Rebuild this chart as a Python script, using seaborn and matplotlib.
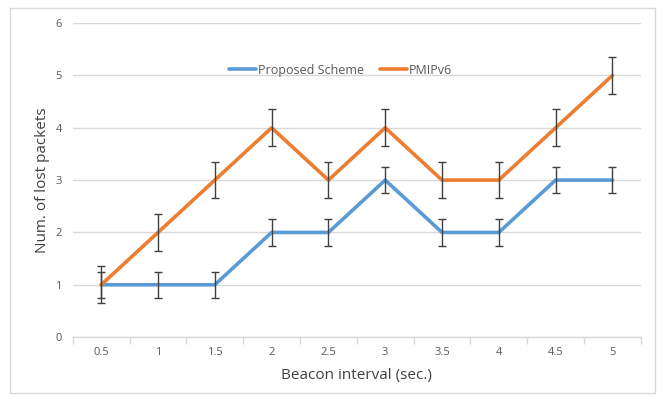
import matplotlib
matplotlib.use("Agg")
import matplotlib.pyplot as plt
from matplotlib.patches import Rectangle
import seaborn as sns
import pandas as pd
import numpy as np

categories = ["0.5", "1", "1.5", "2", "2.5", "3", "3.5", "4", "4.5", "5"]
proposed = [1, 1, 1, 2, 2, 3, 2, 2, 3, 3]
pmipv6 = [1, 2, 3, 4, 3, 4, 3, 3, 4, 5]
proposed_err = 0.25
pmipv6_err = 0.35
y_ticks = [0, 1, 2, 3, 4, 5, 6]

BLUE = "#5B9BD5"
ORANGE = "#ED7D31"
TEXT = "#595959"

sns.set_theme(style="white")
plt.rcParams["font.family"] = ["Open Sans", "DejaVu Sans"]

df = pd.DataFrame({
    "interval": categories * 2,
    "lost": proposed + pmipv6,
    "scheme": ["Proposed Scheme"] * len(categories) + ["PMIPv6"] * len(categories),
})

fig = plt.figure(figsize=(6.62, 3.98), dpi=100)
ax = fig.add_axes([0.110, 0.153, 0.858, 0.789])

# outer chart frame
fig.patches.append(Rectangle((10 / 662, 5 / 398), 645 / 662, 385 / 398,
                             transform=fig.transFigure, fill=False,
                             edgecolor="#d9d9d9", linewidth=1.0))

sns.lineplot(data=df, x="interval", y="lost", hue="scheme",
             palette={"Proposed Scheme": BLUE, "PMIPv6": ORANGE},
             linewidth=2.6, ax=ax, sort=False, zorder=3)

pos = np.arange(len(categories))
ax.errorbar(pos, pmipv6, yerr=pmipv6_err, fmt="none", ecolor="#404040",
            elinewidth=1.0, capsize=3, capthick=1.0, zorder=4)
ax.errorbar(pos, proposed, yerr=proposed_err, fmt="none", ecolor="#404040",
            elinewidth=1.0, capsize=3, capthick=1.0, zorder=4)

ax.set_xlim(-0.5, len(categories) - 0.5)
ax.set_ylim(0, 6)
ax.set_yticks(y_ticks)
ax.set_yticklabels([str(t) for t in y_ticks], color=TEXT, fontsize=8)
ax.set_xticks(pos)
ax.set_xticklabels(categories, color=TEXT, fontsize=8)
ax.tick_params(axis="x", which="major", length=0, pad=7)
ax.tick_params(axis="y", length=0, pad=8)
ax.set_xticks(np.arange(-0.5, len(categories), 1.0), minor=True)
ax.tick_params(axis="x", which="minor", length=5, color="#d9d9d9", width=1.0, bottom=True)

ax.grid(axis="y", color="#d9d9d9", linewidth=1.0, zorder=0)
ax.set_axisbelow(True)
for side in ["top", "right", "left"]:
    ax.spines[side].set_visible(False)
ax.spines["bottom"].set_color("#d9d9d9")
ax.spines["bottom"].set_linewidth(1.0)

ax.set_xlabel("Beacon interval (sec.)", fontsize=11, color="#404040", labelpad=7)
ax.set_ylabel("Num. of lost packets", fontsize=11, color="#404040", labelpad=4)

leg = ax.legend(loc="center", bbox_to_anchor=(0.472, 0.85), ncol=2, frameon=False,
                fontsize=9, handlelength=2.15, handletextpad=0.15, columnspacing=1.3)
for t in leg.get_texts():
    t.set_color(TEXT)
for line in leg.get_lines():
    line.set_linewidth(2.6)

fig.savefig("out.png", dpi=100, facecolor="white")
